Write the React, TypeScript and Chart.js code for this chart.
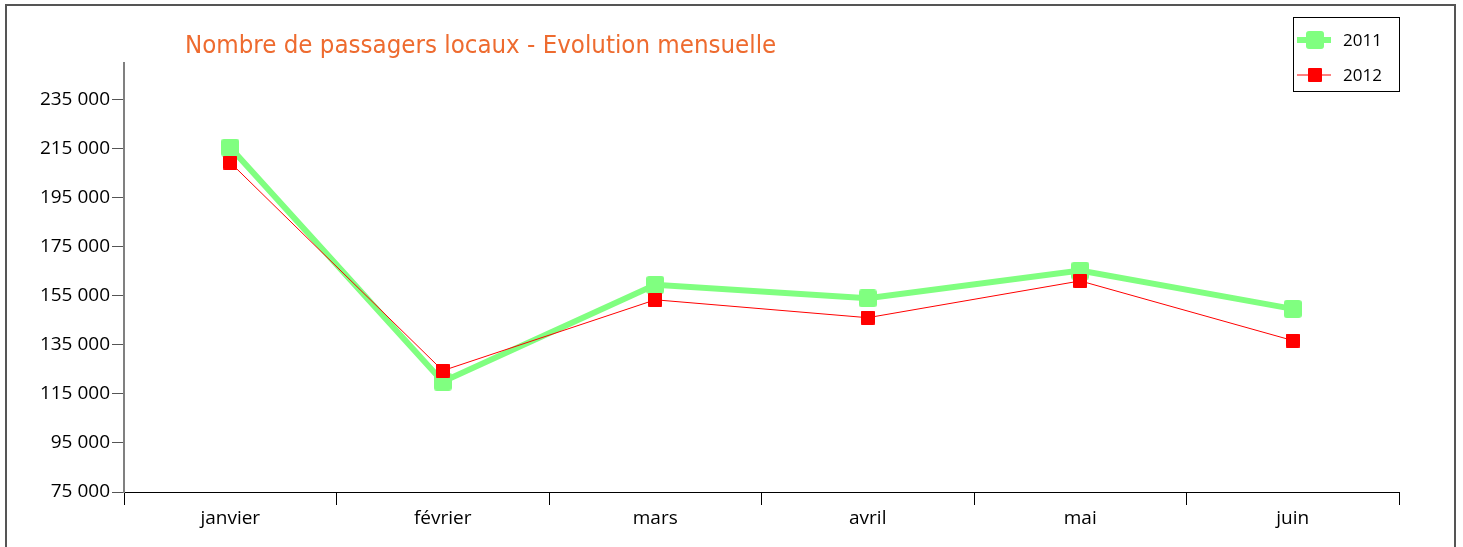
import React, { useEffect, useRef } from "react";
import { Chart, registerables } from "chart.js";

Chart.register(...registerables);

const categories = ["janvier", "février", "mars", "avril", "mai", "juin"];
const passagers2011 = [215500, 120000, 159500, 154000, 165300, 149700];
const passagers2012 = [209400, 124500, 153400, 146100, 161100, 136800];
const yTickValues = [75000, 95000, 115000, 135000, 155000, 175000, 195000, 215000, 235000];
const seriesLabels = ["2011", "2012"];
const titleText = "Nombre de passagers locaux - Evolution mensuelle";

const GREEN = "#80FF80";
const RED = "#FF0000";

function makeMarker(size: number, radius: number, color: string): HTMLCanvasElement {
  const c = document.createElement("canvas");
  c.width = size;
  c.height = size;
  const ctx = c.getContext("2d")!;
  ctx.fillStyle = color;
  ctx.beginPath();
  (ctx as any).roundRect(0, 0, size, size, radius);
  ctx.fill();
  return c;
}

function fmt(v: number): string {
  return String(v).replace(/\B(?=(\d{3})+(?!\d))/g, " ");
}

export default function App() {
  const ref = useRef<HTMLCanvasElement | null>(null);

  useEffect(() => {
    document.body.style.margin = "0";
    const greenMarker = makeMarker(18, 3, GREEN);
    const redMarker = makeMarker(14, 1, RED);

    const decor = {
      id: "decor",
      afterDraw(chart: any) {
        const ctx = chart.ctx as CanvasRenderingContext2D;
        ctx.save();
        // frame
        ctx.strokeStyle = "#555";
        ctx.lineWidth = 2;
        ctx.beginPath();
        ctx.moveTo(6, 560);
        ctx.lineTo(6, 5);
        ctx.lineTo(1455, 5);
        ctx.lineTo(1455, 560);
        ctx.stroke();
        // title
        ctx.fillStyle = "#EE6B2F";
        ctx.font = "25.6px 'DejaVu Sans Condensed', 'DejaVu Sans', sans-serif";
        ctx.textBaseline = "middle";
        ctx.textAlign = "left";
        ctx.fillText(titleText, 185, 46);
        // legend
        ctx.strokeStyle = "#000";
        ctx.lineWidth = 1;
        ctx.strokeRect(1293.5, 17.5, 106, 74);
        const entries = [
          { y: 40, color: GREEN, w: 6, img: greenMarker, label: seriesLabels[0] },
          { y: 75, color: RED, w: 1, img: redMarker, label: seriesLabels[1] },
        ];
        for (const e of entries) {
          ctx.strokeStyle = e.color;
          ctx.lineWidth = e.w;
          ctx.beginPath();
          ctx.moveTo(1297, e.y);
          ctx.lineTo(1331, e.y);
          ctx.stroke();
          ctx.drawImage(e.img, 1315 - e.img.width / 2, e.y - e.img.height / 2);
          ctx.fillStyle = "#000";
          ctx.font = "17px 'Open Sans', sans-serif";
          ctx.textBaseline = "middle";
          ctx.fillText(e.label, 1343, e.y + 1);
        }
        ctx.restore();
      },
    };

    const chart = new Chart(ref.current!, {
      type: "line",
      data: {
        labels: categories,
        datasets: [
          {
            label: seriesLabels[0],
            data: passagers2011,
            borderColor: GREEN,
            backgroundColor: GREEN,
            borderWidth: 6,
            pointStyle: greenMarker as any,
            pointRadius: 9,
            tension: 0,
            order: 1,
          },
          {
            label: seriesLabels[1],
            data: passagers2012,
            borderColor: RED,
            backgroundColor: RED,
            borderWidth: 1,
            pointStyle: redMarker as any,
            pointRadius: 7,
            tension: 0,
            order: 0,
          },
        ],
      },
      options: {
        animation: false,
        responsive: false,
        maintainAspectRatio: false,
        layout: { padding: { left: 0, top: 63, right: 64, bottom: 0 } },
        plugins: {
          legend: { display: false },
          title: { display: false },
          tooltip: { enabled: false },
        },
        scales: {
          x: {
            type: "category",
            offset: true,
            grid: {
              offset: true,
              drawOnChartArea: false,
              drawTicks: true,
              tickLength: 13,
              color: "#000",
              lineWidth: 1,
            },
            border: { color: "#000", width: 1 },
            ticks: {
              color: "#000",
              font: { family: "'Open Sans', sans-serif", size: 19 },
              padding: 2,
              maxRotation: 0,
            },
            afterFit(scale: any) {
              scale.height = 55;
            },
          },
          y: {
            min: 75000,
            max: 250000,
            grid: {
              drawOnChartArea: false,
              drawTicks: true,
              tickLength: 12,
              color: "#555",
              lineWidth: 1,
            },
            border: { color: "#808080", width: 2 },
            ticks: {
              color: "#000",
              font: { family: "'Open Sans', sans-serif", size: 19 },
              padding: 2,
              callback: (v: any) => fmt(Number(v)),
            },
            afterBuildTicks(scale: any) {
              scale.ticks = yTickValues.map((v) => ({ value: v }));
            },
            afterFit(scale: any) {
              scale.width = 124;
            },
          },
        },
      },
      plugins: [decor],
    });
    return () => chart.destroy();
  }, []);

  return (
    <div style={{ width: 1463, height: 547, overflow: "hidden", background: "#fff" }}>
      <canvas ref={ref} width={1463} height={547} style={{ display: "block" }} />
    </div>
  );
}
